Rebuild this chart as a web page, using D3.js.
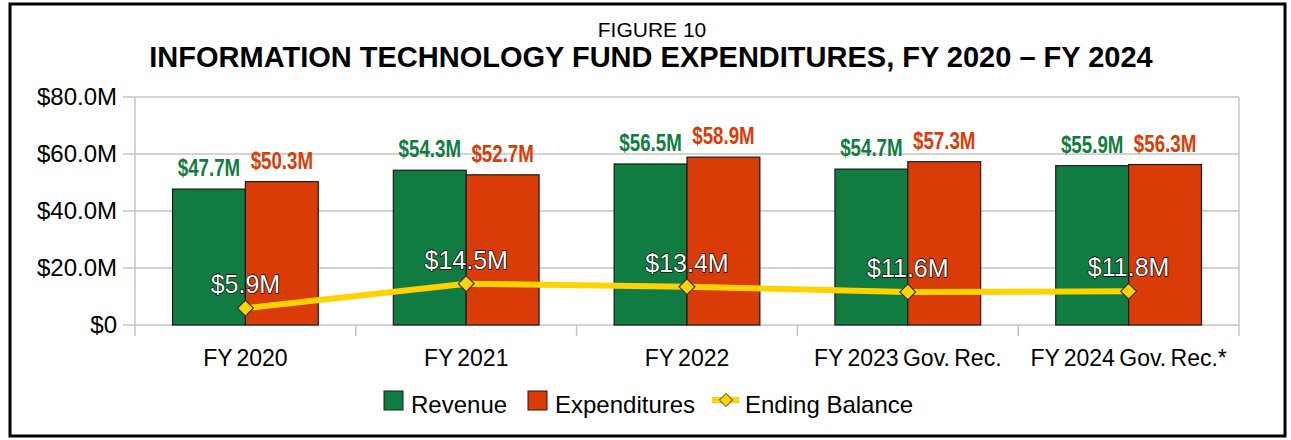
<!DOCTYPE html>
<title>Information Technology Fund Expenditures</title>
<style type="text/css">
	body { margin: 0; background: #fff; }
	text { font-family: "Liberation Sans", Arial, sans-serif; }
	.bar-label { font-family: "Liberation Sans Narrow", "Arial Narrow", sans-serif; font-stretch: condensed; font-weight: bold; font-size: 24px; }
	.bal-label { font-size: 25px; fill: #fff; stroke: #000; stroke-width: 1.3px; paint-order: stroke; }
	.grid line { stroke: #c4c4c4; stroke-width: 1.5px; }
</style>
<body>
<script src="https://d3js.org/d3.v7.min.js"></script>
<script type="text/javascript">
	const categories = ['FY 2020', 'FY 2021', 'FY 2022', 'FY 2023 Gov. Rec.', 'FY 2024 Gov. Rec.*'];
	const revenue = [47.7, 54.3, 56.5, 54.7, 55.9];
	const expenditures = [50.3, 52.7, 58.9, 57.3, 56.3];
	const endingBalance = [5.9, 14.5, 13.4, 11.6, 11.8];
	const yTicks = [0, 20, 40, 60, 80];
	const yTickLabels = ['$0', '$20.0M', '$40.0M', '$60.0M', '$80.0M'];

	const W = 1291, H = 440;
	const plot = { left: 135, right: 1239, top: 97, bottom: 325 };
	const green = '#107c41', orange = '#da3c07', yellow = '#ffd200';

	const svg = d3.select('body').append('svg').attr('width', W).attr('height', H);

	// frame
	svg.append('rect').attr('x', 10).attr('y', 4).attr('width', 1275).attr('height', 432)
		.attr('fill', '#fff').attr('stroke', '#000').attr('stroke-width', 3);

	// titles
	svg.append('text').attr('x', 652).attr('y', 37).attr('text-anchor', 'middle')
		.attr('font-size', 21).text('FIGURE 10');
	svg.append('text').attr('x', 651).attr('y', 67).attr('text-anchor', 'middle')
		.attr('font-size', 29).attr('font-weight', 'bold')
		.text('INFORMATION TECHNOLOGY FUND EXPENDITURES, FY 2020 \u2013 FY 2024');

	const x = d3.scaleBand().domain(categories).range([plot.left, plot.right]);
	const y = d3.scaleLinear().domain([0, 80]).range([plot.bottom, plot.top]);
	const barW = x.bandwidth() * 0.33;

	// gridlines
	svg.append('g').attr('class', 'grid').selectAll('line').data(yTicks).join('line')
		.attr('x1', plot.left - 12).attr('x2', plot.right)
		.attr('y1', d => y(d)).attr('y2', d => y(d));
	svg.append('line').attr('x1', plot.left).attr('x2', plot.left)
		.attr('y1', plot.top).attr('y2', plot.bottom + 11).attr('stroke', '#c4c4c4').attr('stroke-width', 1.5);
	svg.append('line').attr('x1', plot.right).attr('x2', plot.right)
		.attr('y1', plot.top).attr('y2', plot.bottom + 11).attr('stroke', '#c4c4c4').attr('stroke-width', 1.5);
	svg.append('g').selectAll('line').data(categories.slice(1)).join('line')
		.attr('x1', d => x(d)).attr('x2', d => x(d))
		.attr('y1', plot.bottom).attr('y2', plot.bottom + 11)
		.attr('stroke', '#c4c4c4').attr('stroke-width', 1.5);

	// y labels
	svg.append('g').selectAll('text').data(yTicks).join('text')
		.attr('x', 117).attr('y', d => y(d) + 8).attr('text-anchor', 'end')
		.attr('font-size', 24).text((d, i) => yTickLabels[i]);

	// x labels
	svg.append('g').selectAll('text').data(categories).join('text')
		.attr('x', d => x(d) + x.bandwidth() / 2).attr('y', 366).attr('text-anchor', 'middle')
		.attr('font-size', 23).attr('word-spacing', -2).text(d => d);

	const cx = i => x(categories[i]) + x.bandwidth() / 2;

	// bars
	const series = [
		{ values: revenue, color: green, offset: -1 },
		{ values: expenditures, color: orange, offset: 0 }
	];
	series.forEach(s => {
		svg.append('g').selectAll('rect').data(s.values).join('rect')
			.attr('x', (d, i) => cx(i) + s.offset * barW)
			.attr('y', d => y(d))
			.attr('width', barW)
			.attr('height', d => plot.bottom - y(d))
			.attr('fill', s.color).attr('stroke', '#1a1a1a').attr('stroke-width', 1.2);
		svg.append('g').selectAll('text').data(s.values).join('text')
			.attr('class', 'bar-label')
			.attr('transform', (d, i) => `translate(${cx(i) + s.offset * barW + barW / 2},${y(d) - 13}) scale(0.78,1)`)
			.attr('text-anchor', 'middle').attr('fill', s.color)
			.text(d => '$' + d.toFixed(1) + 'M');
	});

	// ending balance line
	const line = d3.line().x((d, i) => cx(i)).y(d => y(d));
	svg.append('path').attr('d', line(endingBalance)).attr('fill', 'none')
		.attr('stroke', yellow).attr('stroke-width', 6);
	svg.append('g').selectAll('path').data(endingBalance).join('path')
		.attr('d', d3.symbol(d3.symbolDiamond2, 160)())
		.attr('transform', (d, i) => `translate(${cx(i)},${y(d)})`)
		.attr('fill', yellow).attr('stroke', '#333').attr('stroke-width', 1.2);
	svg.append('g').selectAll('text').data(endingBalance).join('text')
		.attr('class', 'bal-label')
		.attr('x', (d, i) => cx(i)).attr('y', d => y(d) - 15)
		.attr('text-anchor', 'middle')
		.text(d => '$' + d.toFixed(1) + 'M');

	// legend
	const lg = svg.append('g');
	lg.append('rect').attr('x', 384).attr('y', 391).attr('width', 19).attr('height', 19)
		.attr('fill', green).attr('stroke', '#1a1a1a');
	lg.append('text').attr('x', 411).attr('y', 413).attr('font-size', 24).text('Revenue');
	lg.append('rect').attr('x', 528).attr('y', 391).attr('width', 19).attr('height', 19)
		.attr('fill', orange).attr('stroke', '#1a1a1a');
	lg.append('text').attr('x', 555).attr('y', 413).attr('font-size', 24).text('Expenditures');
	lg.append('line').attr('x1', 712).attr('x2', 739).attr('y1', 400).attr('y2', 400)
		.attr('stroke', yellow).attr('stroke-width', 6);
	lg.append('path').attr('d', d3.symbol(d3.symbolDiamond2, 110)())
		.attr('transform', 'translate(726,400)')
		.attr('fill', yellow).attr('stroke', '#333').attr('stroke-width', 1);
	lg.append('text').attr('x', 745).attr('y', 413).attr('font-size', 24).text('Ending Balance');
</script>
</body>
